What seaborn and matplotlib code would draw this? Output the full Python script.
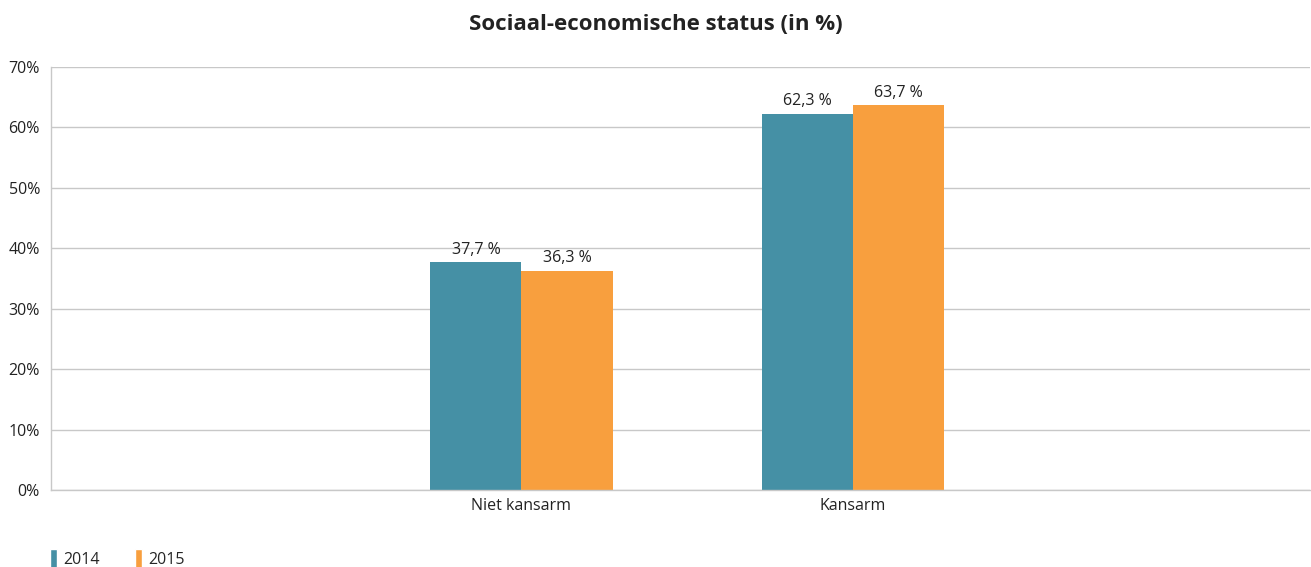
import pandas as pd
import matplotlib.pyplot as plt
import seaborn as sns
from matplotlib.patches import Patch
from matplotlib.ticker import FuncFormatter

# ---- DATA ----
categories = ["Niet kansarm", "Kansarm"]
years = ["2014", "2015"]
values_2014 = [37.7, 62.3]
values_2015 = [36.3, 63.7]

df = pd.DataFrame({
    "status": categories * 2,
    "year": [years[0]] * 2 + [years[1]] * 2,
    "value": values_2014 + values_2015,
})

colors = {"2014": "#4590A5", "2015": "#F89F3E"}

sns.set_theme(style="white")
plt.rcParams["font.family"] = ["Open Sans", "DejaVu Sans"]

fig = plt.figure(figsize=(13.11, 5.67), dpi=100)
ax = fig.add_axes([51 / 1311, 77 / 567, 1259 / 1311, 423 / 567])

sns.barplot(data=df, x="status", y="value", hue="year", palette=colors,
            width=0.55, saturation=1, legend=False, linewidth=0, ax=ax)

# value labels with comma decimals
for cont in ax.containers:
    ax.bar_label(cont, labels=[f"{v.get_height():.1f} %".replace(".", ",") for v in cont],
                 padding=3, fontsize=11.5, color="#222222")

ax.set_ylim(0, 70)
ax.set_xlim(-1.42, 2.38)
ax.set_yticks(range(0, 71, 10))
ax.yaxis.set_major_formatter(FuncFormatter(lambda v, p: f"{int(v)}%"))
ax.grid(axis="y", color="#C8C8C8", linewidth=1)
ax.set_axisbelow(True)
ax.set_xlabel("")
ax.set_ylabel("")
ax.tick_params(axis="both", length=0, labelsize=11.5, colors="#222222")
ax.tick_params(axis="y", pad=8)
ax.tick_params(axis="x", pad=6)

for side in ["top", "right"]:
    ax.spines[side].set_visible(False)
for side in ["left", "bottom"]:
    ax.spines[side].set_color("#C8C8C8")
    ax.spines[side].set_linewidth(1)

fig.suptitle("Sociaal-economische status (in %)", fontsize=16, fontweight="bold",
             color="#222222", y=0.975)

handles = [Patch(facecolor=colors[y], label=y) for y in years]
fig.legend(handles=handles, loc="lower left", bbox_to_anchor=(0.027, -0.027),
           ncol=2, frameon=False, handlelength=0.45, handleheight=1.4,
           handletextpad=0.4, columnspacing=2.2, fontsize=11.5)

fig.savefig("out.png", dpi=100)
